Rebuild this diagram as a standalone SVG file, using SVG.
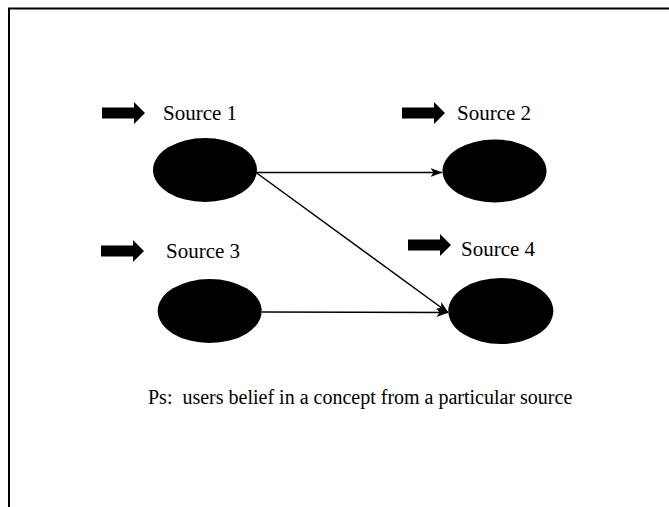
<svg xmlns="http://www.w3.org/2000/svg" width="669" height="507" viewBox="0 0 669 507">
<style>
.lbl{font-family:"Liberation Serif","Times New Roman",serif;font-size:21px;fill:#000}
.cap{font-family:"Liberation Serif","Times New Roman",serif;font-size:20px;fill:#000;white-space:pre}
.node ellipse{fill:#000}
.conn line{stroke:#000;stroke-width:1.5;fill:none}
</style>
<defs>
<marker id="ah" viewBox="0 0 12 10" refX="11.5" refY="5" markerWidth="12" markerHeight="10" markerUnits="userSpaceOnUse" orient="auto">
<path d="M0,0.5 L12,5 L0,9.5 L3,5 Z" fill="#000"/>
</marker>
<path id="blk" d="M0,-5.5 H32 V-11 L43,0 L32,11 V5.5 H0 Z" fill="#000"/>
</defs>
<rect width="669" height="507" fill="#fff"/>
<path d="M9,507 V8.5 H669" fill="none" stroke="#000" stroke-width="2"/>
<g class="conn" id="connectors">
<line x1="256" y1="172.5" x2="442" y2="172.5" marker-end="url(#ah)"/>
<line x1="256" y1="172.5" x2="448" y2="312.5" marker-end="url(#ah)"/>
<line x1="262" y1="312" x2="448" y2="312.5" marker-end="url(#ah)"/>
</g>
<g class="node" id="source1">
<use href="#blk" x="102" y="113"/>
<text class="lbl" x="163" y="120">Source 1</text>
<ellipse cx="205" cy="170" rx="52" ry="32"/>
</g>
<g class="node" id="source2">
<use href="#blk" x="402" y="113"/>
<text class="lbl" x="457" y="120">Source 2</text>
<ellipse cx="494.5" cy="171" rx="52" ry="31.5"/>
</g>
<g class="node" id="source3">
<use href="#blk" x="101" y="251"/>
<text class="lbl" x="166" y="258">Source 3</text>
<ellipse cx="209.7" cy="311" rx="52" ry="32"/>
</g>
<g class="node" id="source4">
<use href="#blk" x="408" y="245"/>
<text class="lbl" x="461" y="256">Source 4</text>
<ellipse cx="500.8" cy="311" rx="52.5" ry="33"/>
</g>
<text class="cap" x="148" y="404">Ps:  users belief in a concept from a particular source</text>
</svg>
